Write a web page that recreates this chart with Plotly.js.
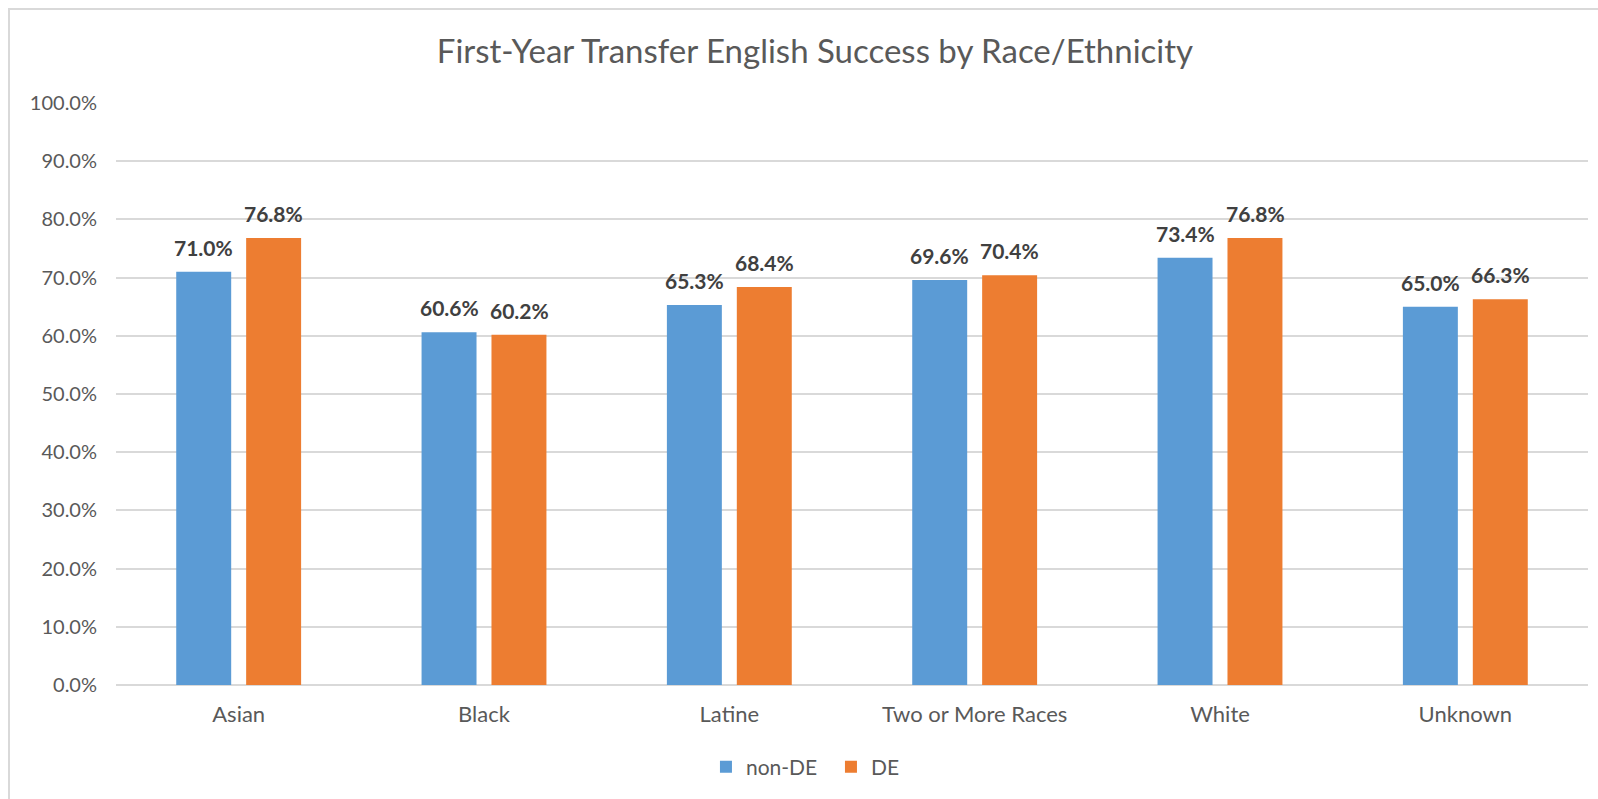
<!DOCTYPE html>
<html>
<head>
<meta charset="utf-8">
<script src="https://cdn.plot.ly/plotly-3.0.1.min.js"></script>
<style>
html,body{margin:0;padding:0;background:#fff;}
#wrap{position:relative;width:1598px;height:799px;overflow:hidden;}
#chart{width:1598px;height:799px;}
#frame{position:absolute;left:8px;top:8px;width:1700px;height:900px;border-left:2px solid #d9d9d9;border-top:2px solid #d9d9d9;pointer-events:none;}
</style>
</head>
<body>
<div id="wrap"><div id="chart"></div><div id="frame"></div></div>
<script>
const categories = ["Asian", "Black", "Latine", "Two or More Races", "White", "Unknown"];
const nonDE = [0.710, 0.606, 0.653, 0.696, 0.734, 0.650];
const DE = [0.768, 0.602, 0.684, 0.704, 0.768, 0.663];
const seriesNames = ["non-DE", "DE"];
const titleText = "First-Year Transfer English Success by Race/Ethnicity";

const FONT = "Lato, 'Open Sans', sans-serif";
const colors = ["#5B9BD5", "#ED7D31"];

const traces = [nonDE, DE].map((vals, i) => ({
  type: "bar",
  name: seriesNames[i],
  x: categories,
  y: vals,
  marker: {color: colors[i]},
  hoverinfo: "x+y+name"
}));

const annotations = [];
[nonDE, DE].forEach((vals, i) => {
  vals.forEach((v, j) => {
    annotations.push({
      x: categories[j], y: v, xref: "x", yref: "y",
      text: (v * 100).toFixed(1) + "%",
      showarrow: false,
      xshift: i === 0 ? -35 : 35,
      yanchor: "bottom",
      yshift: 10,
      font: {family: FONT, size: 21, color: "#404040", weight: "bold"}
    });
  });
});

const layout = {
  width: 1598, height: 799,
  paper_bgcolor: "#fff", plot_bgcolor: "#fff",
  margin: {l: 116, r: 10, t: 103, b: 114},
  font: {family: FONT, color: "#595959"},
  title: {text: titleText, x: 0.51, xref: "container", xanchor: "center",
          y: 1 - 51/799, yref: "container", yanchor: "middle",
          font: {family: FONT, size: 33, color: "#595959"}},
  barmode: "group",
  bargap: 0.43,
  bargroupgap: 0.214,
  xaxis: {type: "category", tickfont: {size: 22, color: "#595959"}, showgrid: false,
          showline: false, ticks: "", zeroline: false, ticklabelstandoff: 14},
  yaxis: {range: [0, 1], dtick: 0.1, tickformat: ".1%", showgrid: true, gridcolor: "#d9d9d9",
          gridwidth: 1.5, zeroline: true, zerolinecolor: "#d9d9d9", zerolinewidth: 1.5,
          ticks: "", ticklabelstandoff: 18, tickfont: {size: 20, color: "#595959"}},
  showlegend: true,
  legend: {orientation: "h", xref: "container", x: 0.52, xanchor: "center",
           yref: "container", y: 1 - 767/799, yanchor: "middle",
           font: {size: 21, color: "#595959"}, itemwidth: 30, traceorder: "normal",
           entrywidth: 80, entrywidthmode: "pixels"},
  annotations: annotations
};

Plotly.newPlot("chart", traces, layout, {displayModeBar: false, staticPlot: false});
</script>
</body>
</html>
